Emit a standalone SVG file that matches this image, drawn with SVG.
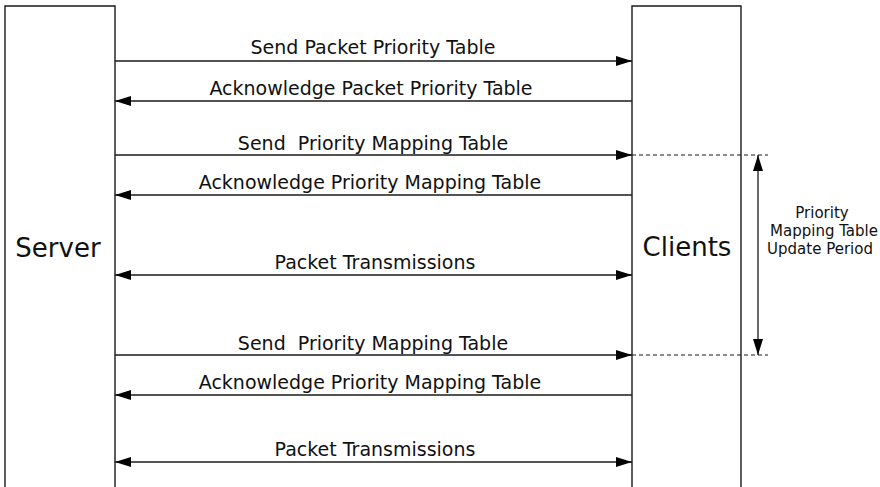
<svg xmlns="http://www.w3.org/2000/svg" width="880" height="487" viewBox="0 0 880 487">
<style>
.box{fill:none;stroke:#1a1a1a;stroke-width:1.4}
.msg{fill:none;stroke:#1a1a1a;stroke-width:1.3}
.dash{fill:none;stroke:#1a1a1a;stroke-width:1.1;stroke-dasharray:4,3}
.lbl{font-family:"DejaVu Sans",Verdana,sans-serif;font-size:19px;fill:#111;text-anchor:middle}
.big{font-family:"DejaVu Sans",Verdana,sans-serif;font-size:26px;fill:#111;text-anchor:middle}
.side{font-family:"DejaVu Sans",Verdana,sans-serif;font-size:15px;fill:#111;text-anchor:middle}
</style>
<defs>
<marker id="ah" viewBox="0 0 16 10" refX="16" refY="5" markerWidth="16" markerHeight="10" markerUnits="userSpaceOnUse" orient="auto-start-reverse">
<path d="M0,0 L16,5 L0,10 z" fill="#000"/>
</marker>
</defs>
<rect width="880" height="487" fill="#fff"/>
<g id="server">
<path class="box" d="M5,487 V6 H115 V487"/>
<text class="big" x="58" y="257">Server</text>
</g>
<g id="clients">
<path class="box" d="M632,487 V6 H741 V487"/>
<text class="big" x="687" y="256">Clients</text>
</g>
<g id="period-label">
<text class="side" x="822" y="218">Priority</text>
<text class="side" x="824" y="236">Mapping Table</text>
<text class="side" x="820" y="254">Update Period</text>
</g>
<g id="connectors">
<line class="msg" x1="115" y1="61" x2="632" y2="61" marker-end="url(#ah)"/>
<line class="msg" x1="632" y1="101" x2="115" y2="101" marker-end="url(#ah)"/>
<line class="msg" x1="115" y1="155" x2="632" y2="155" marker-end="url(#ah)"/>
<line class="msg" x1="632" y1="195" x2="115" y2="195" marker-end="url(#ah)"/>
<line class="msg" x1="115" y1="275" x2="632" y2="275" marker-start="url(#ah)" marker-end="url(#ah)"/>
<line class="msg" x1="115" y1="355" x2="632" y2="355" marker-end="url(#ah)"/>
<line class="msg" x1="632" y1="395" x2="115" y2="395" marker-end="url(#ah)"/>
<line class="msg" x1="115" y1="462" x2="632" y2="462" marker-start="url(#ah)" marker-end="url(#ah)"/>
<line class="dash" x1="632" y1="155" x2="768" y2="155"/>
<line class="dash" x1="632" y1="355" x2="768" y2="355"/>
<line class="msg" x1="758" y1="155" x2="758" y2="355" marker-start="url(#ah)" marker-end="url(#ah)"/>
</g>
<g id="labels">
<text class="lbl" x="373" y="54">Send Packet Priority Table</text>
<text class="lbl" x="371" y="95">Acknowledge Packet Priority Table</text>
<text class="lbl" x="373" y="150" xml:space="preserve">Send  Priority Mapping Table</text>
<text class="lbl" x="370" y="189">Acknowledge Priority Mapping Table</text>
<text class="lbl" x="375" y="269">Packet Transmissions</text>
<text class="lbl" x="373" y="350" xml:space="preserve">Send  Priority Mapping Table</text>
<text class="lbl" x="370" y="389">Acknowledge Priority Mapping Table</text>
<text class="lbl" x="375" y="456">Packet Transmissions</text>
</g>
</svg>
